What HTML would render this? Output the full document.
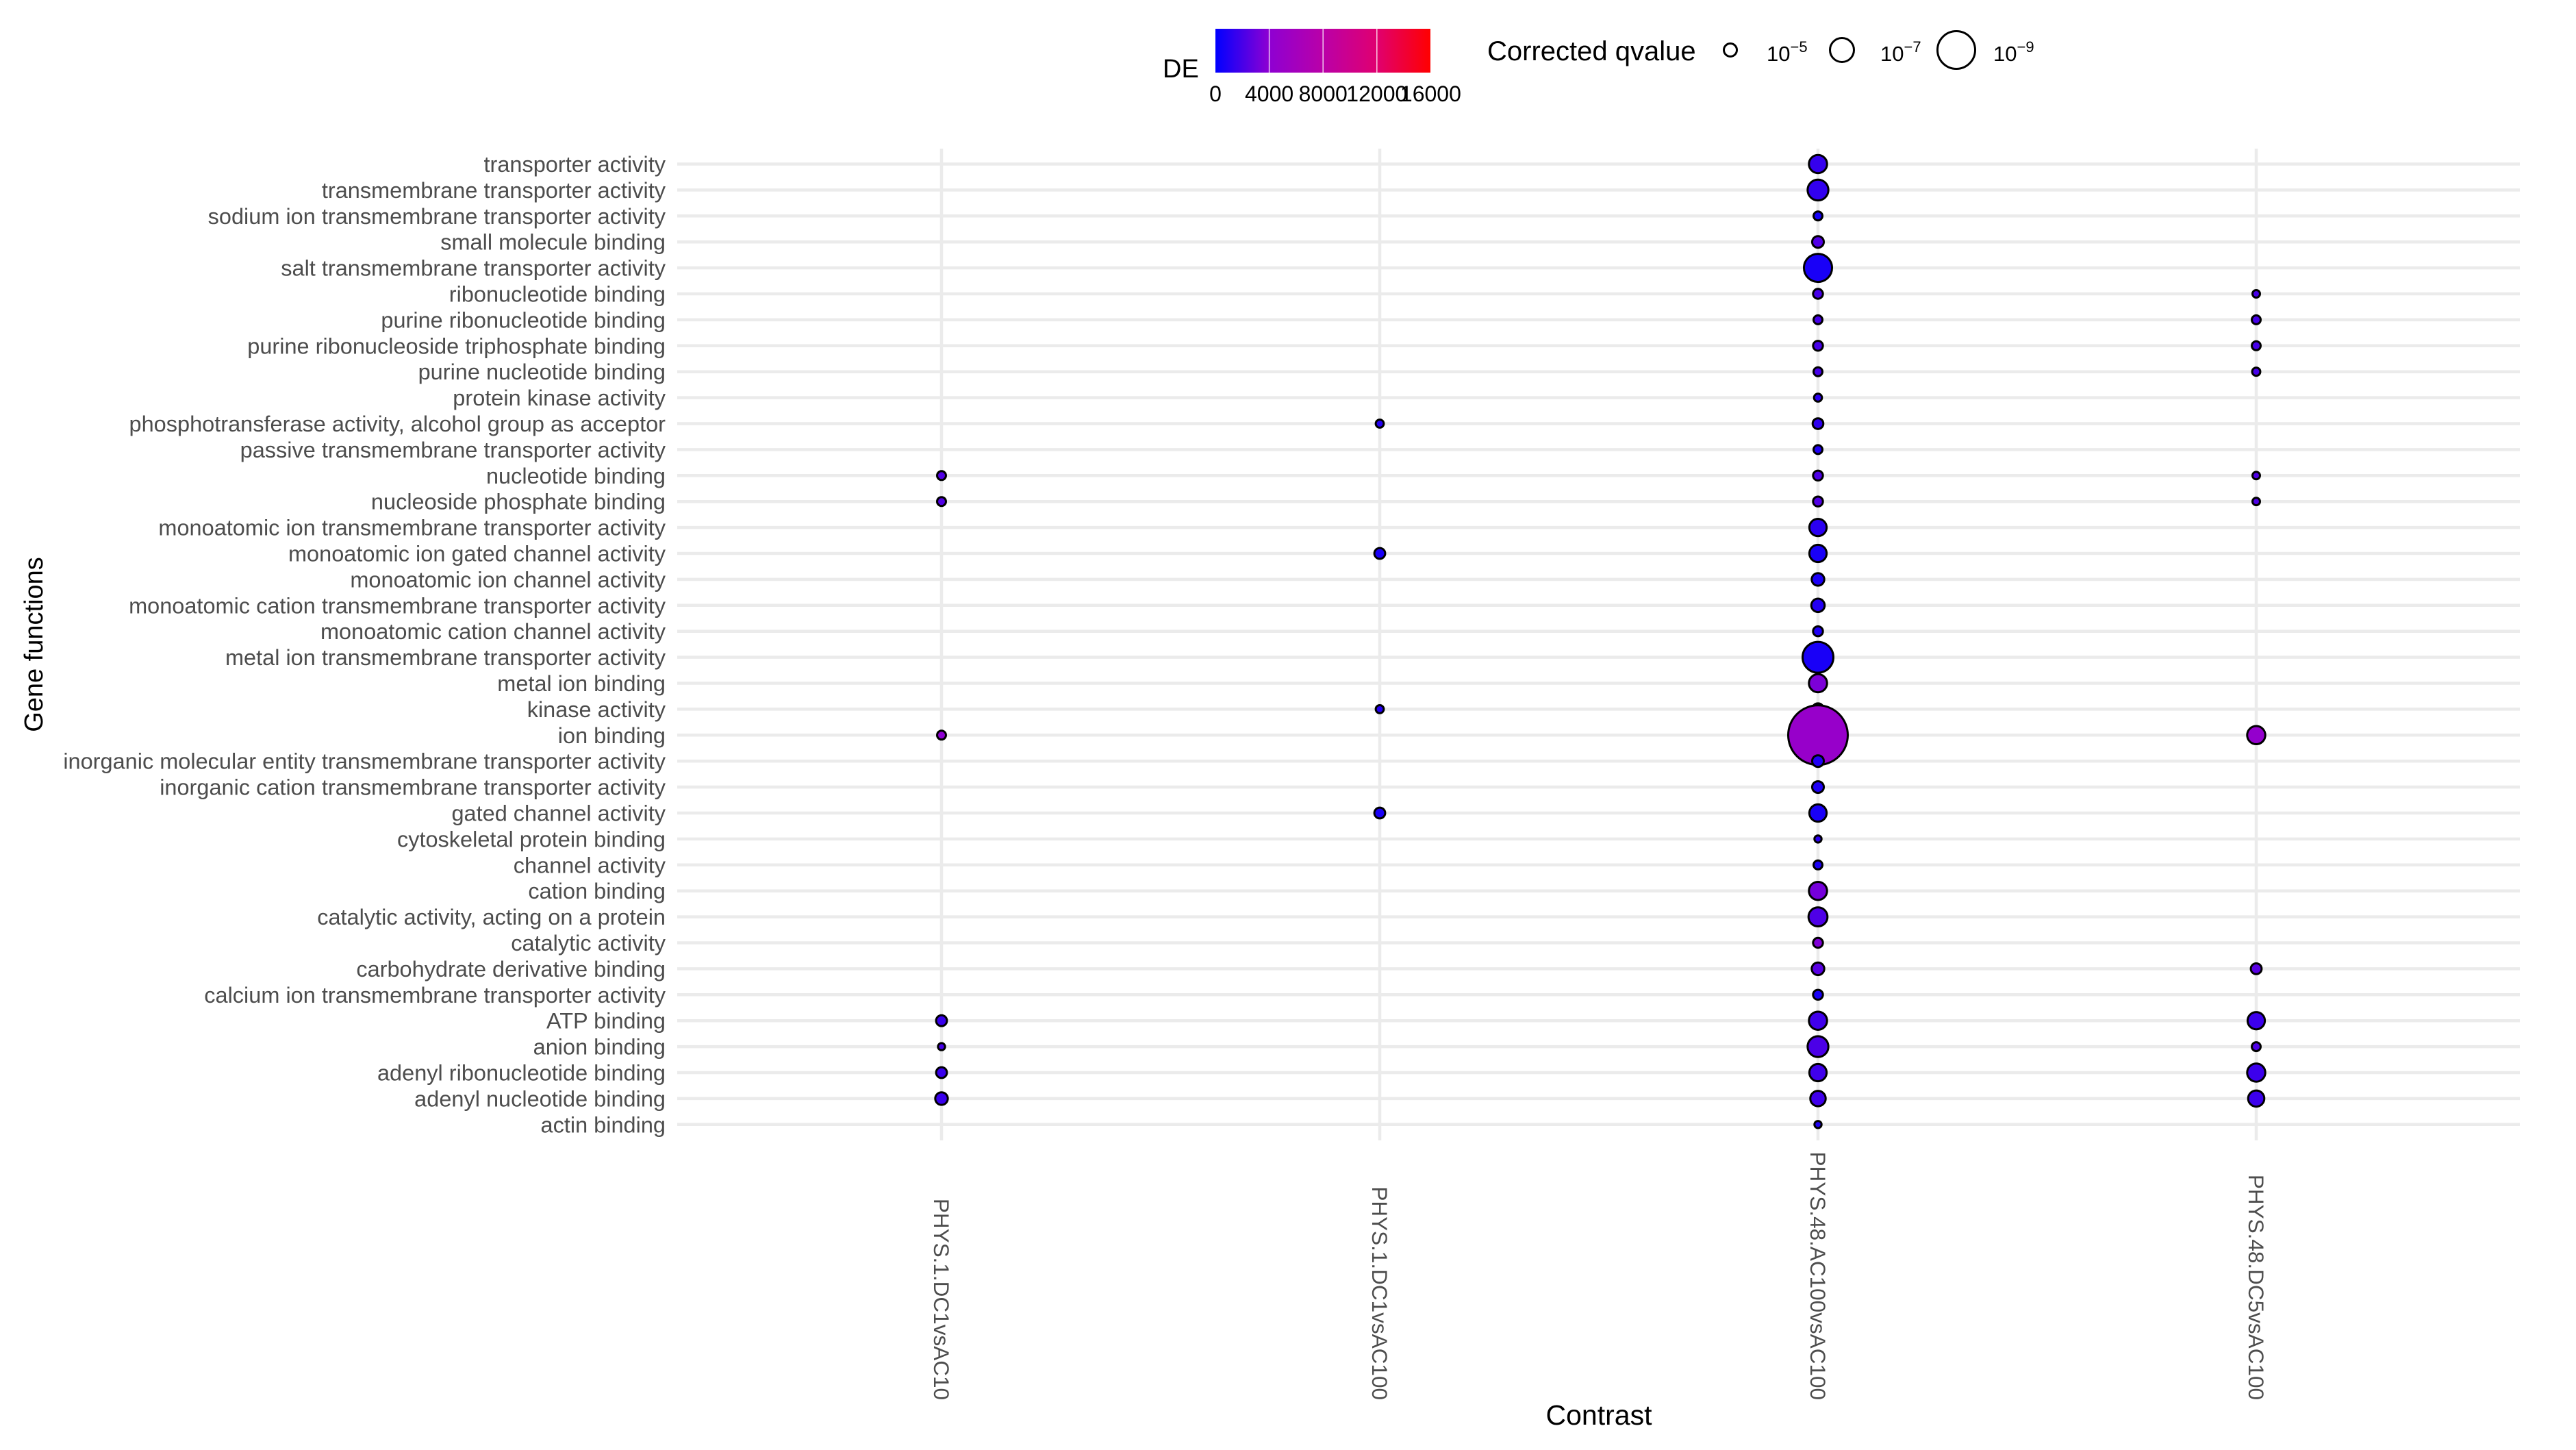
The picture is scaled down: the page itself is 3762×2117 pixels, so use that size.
<!DOCTYPE html>
<html><head><meta charset="utf-8"><style>
html,body{margin:0;padding:0;background:#fff}
svg{display:block;font-family:"Liberation Sans",Arial,sans-serif}
</style></head><body>
<svg id="chart" width="3762" height="2117" viewBox="0 0 3762 2117" xmlns="http://www.w3.org/2000/svg">
<defs>
<linearGradient id="deGrad" x1="0" x2="1" y1="0" y2="0">
<stop offset="0" stop-color="#0000FF"/><stop offset="0.25" stop-color="#8E00D2"/><stop offset="0.5" stop-color="#BA00A8"/><stop offset="0.75" stop-color="#E00070"/><stop offset="1" stop-color="#FF0000"/>
</linearGradient>
</defs>
<g id="grid"></g>
<g id="yaxis"></g>
<g id="xaxis"></g>
<g id="dots"></g>
<text x="2335" y="2080" font-size="41" text-anchor="middle" fill="#000">Contrast</text>
<text transform="translate(62,941) rotate(-90)" font-size="38" text-anchor="middle" fill="#000">Gene functions</text>
<g id="legend-color">
<text x="1698" y="113" font-size="38" fill="#000">DE</text>
<rect x="1775" y="42" width="314" height="64" fill="url(#deGrad)"/>
</g>
<g id="legend-size">
<text x="2172" y="88" font-size="40" fill="#000">Corrected qvalue</text>
</g>
</svg>
<script>
const categories = ["transporter activity","transmembrane transporter activity","sodium ion transmembrane transporter activity","small molecule binding","salt transmembrane transporter activity","ribonucleotide binding","purine ribonucleotide binding","purine ribonucleoside triphosphate binding","purine nucleotide binding","protein kinase activity","phosphotransferase activity, alcohol group as acceptor","passive transmembrane transporter activity","nucleotide binding","nucleoside phosphate binding","monoatomic ion transmembrane transporter activity","monoatomic ion gated channel activity","monoatomic ion channel activity","monoatomic cation transmembrane transporter activity","monoatomic cation channel activity","metal ion transmembrane transporter activity","metal ion binding","kinase activity","ion binding","inorganic molecular entity transmembrane transporter activity","inorganic cation transmembrane transporter activity","gated channel activity","cytoskeletal protein binding","channel activity","cation binding","catalytic activity, acting on a protein","catalytic activity","carbohydrate derivative binding","calcium ion transmembrane transporter activity","ATP binding","anion binding","adenyl ribonucleotide binding","adenyl nucleotide binding","actin binding"];
const contrasts = ["PHYS.1.DC1vsAC10","PHYS.1.DC1vsAC100","PHYS.48.AC100vsAC100","PHYS.48.DC5vsAC100"];
// points: contrast index, category index, -log10(q), DE
const ptContrast = [0,0,0,0,0,0,0, 1,1,1,1, 2,2,2,2,2,2,2,2,2,2,2,2,2,2,2,2,2,2,2,2,2,2,2,2,2,2,2,2,2,2,2,2,2,2,2,2,2,2, 3,3,3,3,3,3,3,3,3,3,3,3];
const ptCategory = [12,13,22,33,34,35,36, 10,15,21,25, 0,1,2,3,4,5,6,7,8,9,10,11,12,13,14,15,16,17,18,19,20,21,22,23,24,25,26,27,28,29,30,31,32,33,34,35,36,37, 5,6,7,8,12,13,22,31,33,34,35,36];
const ptLogQ = [4.08,4.08,4.08,4.53,3.64,4.53,4.91, 3.88,4.53,3.88,4.53, 6.0,6.47,4.08,4.71,7.65,4.31,4.08,4.31,4.08,3.85,4.5,4.08,4.31,4.31,5.84,5.84,4.91,5.08,4.31,8.05,6.0,4.71,11.6,4.71,4.71,5.84,3.64,4.08,6.0,6.15,4.31,4.91,4.31,6.0,6.47,5.84,5.48,3.64, 3.74,4.08,4.08,3.9,3.74,3.74,6.0,4.53,5.84,4.08,6.0,5.63];
const ptDE = [2300,2300,4000,1600,2000,1600,1600, 1000,700,1000,700, 1500,1400,600,2300,700,2000,2000,2000,2000,1200,1300,900,2200,2300,1200,700,800,1000,900,700,3500,1300,4800,900,900,700,1200,800,3300,2200,3600,2500,700,1800,2100,1800,1800,900, 2000,2000,2000,2000,2200,2200,4500,2500,1700,2200,1700,1700];
const deTicks = [0,4000,8000,12000,16000];
const qTicks = [5,7,9];

const NS="http://www.w3.org/2000/svg";
const rowY0=239.5, rowStep=37.9, colX0=1375, colStep=640;
const panelL=989, panelR=3680, panelT=217, panelB=1665;
const deMax=15980, barX=1775, barW=314;
function yPos(i){return rowY0+i*rowStep;}
function xPos(j){return colX0+j*colStep;}
function rad(v){const d=v-5;return 11+3.5*d+0.25*d*d;}
function deX(v){return barX+v/deMax*barW;}
const stops=[[0,[0,0,255]],[4000,[142,0,210]],[8000,[186,0,168]],[12000,[224,0,112]],[16000,[255,0,0]]];
function deColor(v){
  for(let k=0;k<stops.length-1;k++){
    const a=stops[k],b=stops[k+1];
    if(v<=b[0]){const t=(v-a[0])/(b[0]-a[0]);
      const c=a[1].map((x,i)=>Math.round(x+(b[1][i]-x)*t));return `rgb(${c[0]},${c[1]},${c[2]})`;}
  }
  return "rgb(255,0,0)";
}
function mk(tag,attrs,parent){const e=document.createElementNS(NS,tag);for(const k in attrs)e.setAttribute(k,attrs[k]);parent.appendChild(e);return e;}

const grid=document.getElementById('grid');
categories.forEach((c,i)=>{
  const l=mk('line',{x1:panelL,x2:panelR,y1:yPos(i),y2:yPos(i),stroke:'#ebebeb','stroke-width':4.5},grid);
  
  
});
contrasts.forEach((c,j)=>{
  const l=mk('line',{x1:xPos(j),x2:xPos(j),y1:panelT,y2:panelB,stroke:'#ebebeb','stroke-width':4.5},grid);
  
  
});
const ya=document.getElementById('yaxis');
categories.forEach((c,i)=>{
  const t=mk('text',{x:972,y:yPos(i)+11.5,'font-size':32.5,'text-anchor':'end',fill:'#4d4d4d'},ya);
  t.textContent=c;
  
  
});
const xa=document.getElementById('xaxis');
contrasts.forEach((c,j)=>{
  const t=mk('text',{transform:`translate(${xPos(j)-11},2044) rotate(90)`,'font-size':31.5,'text-anchor':'end',fill:'#4d4d4d'},xa);
  t.textContent=c;
  
  
});
const dots=document.getElementById('dots');
for(let k=0;k<ptContrast.length;k++){
  const r=rad(ptLogQ[k]);
  const c=mk('circle',{cx:xPos(ptContrast[k]),cy:yPos(ptCategory[k]),r:r-1.5,fill:deColor(ptDE[k]),stroke:'#000','stroke-width':3},dots);
  
  
}
const lc=document.getElementById('legend-color');
deTicks.forEach(v=>{
  if(v>0&&v<deMax){
    const tl=mk('line',{x1:deX(v),x2:deX(v),y1:42,y2:106,stroke:'#fff','stroke-width':1.5,'stroke-opacity':0.8},lc);
    
    
  }
  const t=mk('text',{x:deX(v),y:148,'font-size':32,'text-anchor':'middle',fill:'#000'},lc);
  t.textContent=String(v);
  
  
});
const ls=document.getElementById('legend-size');
const keyX=[2527,2690,2857], labX=[2580,2746,2911];
qTicks.forEach((v,i)=>{
  const c=mk('circle',{cx:keyX[i],cy:73,r:rad(v)-1.5,fill:'none',stroke:'#000','stroke-width':3},ls);
  
  
  const t=mk('text',{x:labX[i],y:89,'font-size':31,fill:'#000'},ls);
  
  
  t.textContent='10';
  const s=mk('tspan',{dy:-13,'font-size':22},t);
  s.textContent='\u2212'+v;
});
</script>
</body></html>
